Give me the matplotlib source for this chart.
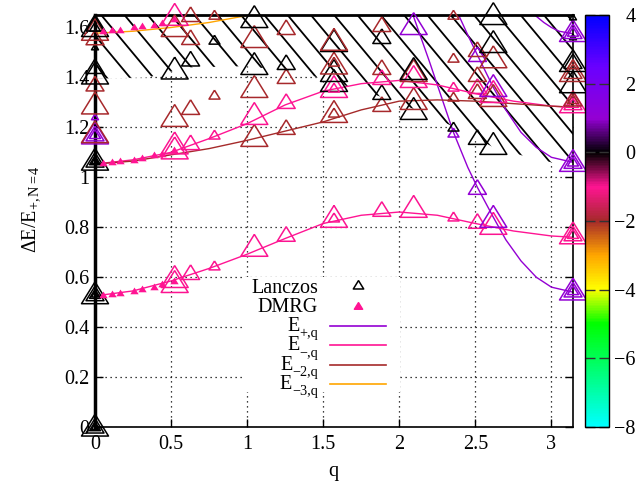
import numpy as np
import matplotlib
matplotlib.use("Agg")
import matplotlib.pyplot as plt
from matplotlib.colors import LinearSegmentedColormap, Normalize
from matplotlib.cm import ScalarMappable
from matplotlib.patches import Polygon, Rectangle
from matplotlib.collections import LineCollection
from matplotlib.ticker import FormatStrFormatter

plt.rcParams['font.family'] = ['Liberation Serif', 'DejaVu Serif']
plt.rcParams['mathtext.fontset'] = 'custom'
plt.rcParams['mathtext.rm'] = 'Liberation Serif'
plt.rcParams['mathtext.it'] = 'Liberation Serif:italic'
FS = 14.5
plt.rcParams['font.size'] = FS

PI = np.pi

# ---- curves ----
em_q = [0, 0.25, 0.5, 0.75, 1.0, 1.25, 1.5, 1.75, 2.0, 2.25, 2.5, 2.75, 3.0, PI]
em_lo = [0.525, 0.545, 0.585, 0.635, 0.692, 0.755, 0.815, 0.848, 0.861, 0.848, 0.815, 0.785, 0.765, 0.76]
em_hi = [1.053, 1.07, 1.10, 1.155, 1.215, 1.29, 1.345, 1.375, 1.388, 1.37, 1.335, 1.305, 1.285, 1.28]
e2_E = [1.053, 1.065, 1.09, 1.115, 1.148, 1.185, 1.222, 1.27, 1.305, 1.31, 1.305, 1.295, 1.285, 1.281]
e3_q = [0, 0.25, 0.5, 0.75, 1.0, 1.1]
e3_E = [1.577, 1.585, 1.60, 1.62, 1.648, 1.665]
ep_a_q = [2.09, 2.2, 2.3, 2.356, 2.45, 2.513, 2.618, 2.7, 2.8, 2.9, 3.0, PI]
ep_a_E = [1.65, 1.46, 1.28, 1.18, 1.04, 0.96, 0.84, 0.75, 0.665, 0.60, 0.56, 0.54]
ep_c_q = [2.39, 2.45, 2.513, 2.618, 2.7, 2.8, 2.9, 3.0, PI]
ep_c_E = [1.65, 1.57, 1.49, 1.36, 1.27, 1.18, 1.12, 1.08, 1.06]
ep_b_q = [2.89, 2.95, 3.0, 3.05, PI]
ep_b_E = [1.65, 1.62, 1.60, 1.585, 1.575]

# lower edge of hatched continuum
cont_q = [0, 0.35, 0.6, 1.0, 1.35, 1.8, 2.2, 2.62, 2.85, 3.0, PI]
cont_E = [1.395, 1.40, 1.44, 1.445, 1.42, 1.34, 1.25, 1.12, 1.08, 1.06, 1.05]

# ---- DMRG points ----
dm_q = [0.055, 0.11, 0.165, 0.255, 0.31, 0.385, 0.44, 0.52]
dm_lo = [0.528, 0.531, 0.535, 0.544, 0.551, 0.562, 0.571, 0.583]
dm_hi = [1.057, 1.061, 1.065, 1.071, 1.079, 1.088, 1.095, 1.108]
dm_top = [1.585, 1.588, 1.591, 1.601, 1.604, 1.611, 1.617, 1.635]

# ---- Lanczos points: q, E, quantum number (colour), system size N ----
lz = [
    (0, 0.0, 0, 6), (0, 0.0, 0, 8), (0, 0.0, 0, 10), (0, 0.0, 0, 12),
    (0, 0.53, 0, 6), (0, 0.53, 0, 8), (0, 0.53, 0, 10), (0, 0.53, 0, 12),
    (0, 1.065, 0, 6), (0, 1.065, 0, 8), (0, 1.065, 0, 10), (0, 1.065, 0, 12),
    (0, 1.17, 1, 8), (0, 1.17, 1, 10), (0, 1.17, 1, 12), (0, 1.24, 1, 6),
    (0, 1.175, -2, 12), (0, 1.29, -2, 12), (0, 1.37, -2, 10),
    (0, 1.44, 0, 10), (0, 1.41, 0, 12), (0, 1.52, 0, 6), (0, 1.555, -2, 10),
    (0, 1.585, -2, 12), (0, 1.60, 0, 8), (0, 1.61, 0, 10), (0, 1.60, 0, 12),
    (PI/6, 0.595, -1, 12), (PI/6, 0.575, -1, 12), (PI/6, 1.13, -1, 12), (PI/6, 1.11, -1, 12),
    (PI/6, 1.24, -2, 12), (PI/6, 1.43, 0, 12), (PI/6, 1.60, -2, 12), (PI/6, 1.645, -1, 12),
    (PI/5, 0.615, -1, 10), (PI/5, 1.135, -1, 10), (PI/5, 1.276, -2, 10), (PI/5, 1.47, 0, 10),
    (PI/5, 1.556, -2, 10), (PI/5, 1.648, -2, 10),
    (PI/4, 0.644, -1, 8), (PI/4, 1.168, -1, 8), (PI/4, 1.328, -2, 8), (PI/4, 1.548, 0, 8),
    (PI/4, 1.648, -2, 8),
    (PI/3, 0.72, -1, 12), (PI/3, 1.16, -2, 12), (PI/3, 1.248, -1, 12), (PI/3, 1.356, -2, 12),
    (PI/3, 1.448, 0, 12), (PI/3, 1.556, -2, 12), (PI/3, 1.636, 0, 12),
    (2*PI/5, 0.768, -1, 10), (2*PI/5, 1.196, -2, 10), (2*PI/5, 1.30, -1, 10),
    (2*PI/5, 1.40, -2, 10), (2*PI/5, 1.456, 0, 10), (2*PI/5, 1.596, -2, 10),
    (PI/2, 0.836, -1, 12), (PI/2, 1.256, -2, 12), (PI/2, 1.356, -1, 12), (PI/2, 1.38, 0, 12),
    (PI/2, 1.42, 0, 12), (PI/2, 1.45, -2, 12), (PI/2, 1.54, 0, 12), (PI/2, 1.545, -2, 12),
    (PI/2, 0.836, -1, 8), (PI/2, 1.256, -2, 8), (PI/2, 1.356, -1, 8), (PI/2, 1.46, -2, 8),
    (3*PI/5, 0.868, -1, 10), (3*PI/5, 1.288, -2, 10), (3*PI/5, 1.336, 0, 10),
    (3*PI/5, 1.396, -1, 10), (3*PI/5, 1.436, -2, 10), (3*PI/5, 1.56, 0, 10), (3*PI/5, 1.608, -2, 10),
    (2*PI/3, 0.876, -1, 12), (2*PI/3, 1.268, 0, 12), (2*PI/3, 1.308, -2, 12),
    (2*PI/3, 1.396, -1, 12), (2*PI/3, 1.42, -2, 12), (2*PI/3, 1.428, 0, 12), (2*PI/3, 1.608, 1, 12),
    (3*PI/4, 0.84, -1, 8), (3*PI/4, 1.176, 1, 8), (3*PI/4, 1.20, 0, 8), (3*PI/4, 1.32, -2, 8),
    (3*PI/4, 1.36, -1, 8), (3*PI/4, 1.476, -2, 8), (3*PI/4, 1.648, -2, 8),
    (4*PI/5, 0.82, -1, 10), (4*PI/5, 0.956, 1, 10), (4*PI/5, 1.156, 0, 10), (4*PI/5, 1.34, -2, 10),
    (4*PI/5, 1.36, -1, 10), (4*PI/5, 1.408, -2, 10), (4*PI/5, 1.488, 1, 10), (4*PI/5, 1.508, -2, 10),
    (5*PI/6, 0.808, -1, 12), (5*PI/6, 0.836, 1, 12), (5*PI/6, 1.128, 0, 12), (5*PI/6, 1.32, -2, 12),
    (5*PI/6, 1.336, -1, 12), (5*PI/6, 1.36, 1, 12), (5*PI/6, 1.475, -2, 12), (5*PI/6, 1.536, 0, 12),
    (5*PI/6, 1.648, 0, 12),
    (PI, 0.545, 1, 8), (PI, 0.545, 1, 10), (PI, 0.545, 1, 12),
    (PI, 0.77, -1, 8), (PI, 0.77, -1, 10), (PI, 0.77, -1, 12),
    (PI, 1.06, 1, 8), (PI, 1.06, 1, 10), (PI, 1.06, 1, 12),
    (PI, 1.295, -1, 8), (PI, 1.295, -1, 10), (PI, 1.295, -1, 12),
    (PI, 1.31, -2, 8), (PI, 1.31, -2, 10), (PI, 1.375, 0, 12),
    (PI, 1.42, -2, 10), (PI, 1.42, -2, 12), (PI, 1.46, 0, 10), (PI, 1.46, 0, 12), (PI, 1.45, -2, 8),
    (PI, 1.56, 0, 6), (PI, 1.58, 1, 8), (PI, 1.58, 1, 10), (PI, 1.58, 1, 12), (PI, 1.64, 0, 6),
]
lz_q = [p[0] for p in lz]
lz_E = [p[1] for p in lz]
lz_val = [p[2] for p in lz]
lz_N = [p[3] for p in lz]

size_px = {6: 7, 8: 11, 10: 18, 12: 27}

point_labels = ['Lanczos', 'DMRG']
curve_subs = ['+,q', '\u2212,q', '\u22122,q', '\u22123,q']
line_colors = ['#9400d3', '#ff1493', '#a52a2a', '#ffa500']

cmap = LinearSegmentedColormap.from_list("qn", [
    (0.0, '#00ffff'), (1.5/12, '#00ff80'), (3/12, '#00ff00'), (4/12, '#ffff00'),
    (5/12, '#ffa500'), (6/12, '#a52a2a'), (7/12, '#ff1493'), (8/12, '#000000'),
    (9/12, '#9400d3'), (10.5/12, '#6a00ff'), (1.0, '#0000ff')])
norm = Normalize(-8, 4)

tri = [(0, 0.95), (-1, -0.67), (1, -0.67), (0, 0.95)]

fig = plt.figure(figsize=(6.37, 4.92), dpi=100)
AX_L, AX_B, AX_W, AX_H = 95, 427, 478, 412
ax = fig.add_axes([AX_L/637, 1-AX_B/492, AX_W/637, AX_H/492])


def px(x, y):
    # pixel position in the picture -> axes fraction
    return (x - AX_L) / AX_W, (AX_B - y) / AX_H


ax.set_xlim(0, PI)
ax.set_ylim(0, 1.65)
ax.set_xticks([0, 0.5, 1, 1.5, 2, 2.5, 3])
ax.set_yticks(np.arange(0, 1.61, 0.2))
ax.xaxis.set_major_formatter(FormatStrFormatter('%g'))
ax.yaxis.set_major_formatter(FormatStrFormatter('%g'))
ax.tick_params(direction='in', length=6, width=1, top=False, right=True, labelsize=FS)
ax.tick_params(axis='x', pad=6)
ax.tick_params(axis='y', pad=4)
ax.grid(True, color='k', linestyle=(0, (1, 3)), linewidth=0.9, zorder=0)
ax.set_axisbelow(True)
for s in ax.spines.values():
    s.set_linewidth(1.2)
ax.spines['left'].set_linewidth(2.5)
ax.spines['top'].set_linewidth(2)

# hatched continuum
verts = [(0, 1.65)] + list(zip(cont_q, cont_E)) + [(PI, 1.65)]
poly = Polygon(verts, closed=True, facecolor='white', edgecolor='none', zorder=1)
ax.add_patch(poly)
slope = 1.2
segs = []
for X in np.arange(-AX_H / slope, AX_W + 1, 23.3):
    segs.append([(X / AX_W, 1.0), ((X + AX_H / slope) / AX_W, 0.0)])
hatch = LineCollection(segs, colors='k', linewidths=1.3, transform=ax.transAxes, zorder=1.1)
ax.add_collection(hatch)
hatch.set_clip_path(poly)

lw_c = 1.0
ax.plot(ep_a_q, ep_a_E, color=line_colors[0], lw=lw_c, zorder=2)
ax.plot(ep_b_q, ep_b_E, color=line_colors[0], lw=lw_c, zorder=2)
ax.plot(ep_c_q, ep_c_E, color=line_colors[0], lw=lw_c, zorder=2)
ax.plot(em_q, em_lo, color=line_colors[1], lw=lw_c, zorder=2)
ax.plot(em_q, em_hi, color=line_colors[1], lw=lw_c, zorder=2)
ax.plot(em_q, e2_E, color=line_colors[2], lw=lw_c, zorder=2)
ax.plot(e3_q, e3_E, color=line_colors[3], lw=lw_c, zorder=2)

cols = [cmap(norm(v)) for v in lz_val]
sizes = [(size_px[n] * 0.72) ** 2 for n in lz_N]
ax.scatter(lz_q, lz_E, s=sizes, marker=tri, facecolors='none', edgecolors=cols,
           linewidths=1.1, zorder=3, clip_on=False)
for branch in (dm_lo, dm_hi, dm_top):
    ax.scatter(dm_q, branch, s=6.0 ** 2, marker=tri, color='#ff1493', linewidths=0,
               zorder=3.5, clip_on=False)

# key, laid out like gnuplot's: text right-aligned, sample on the right
x0, y0 = px(243, 392)
x1, y1 = px(400, 277)
ax.add_patch(Rectangle((x0, y0), x1 - x0, y1 - y0, transform=ax.transAxes,
                       facecolor='white', edgecolor='none', zorder=5))
TXT_R = 318
for lab, yb in zip(point_labels, [293, 312]):
    tx, ty = px(TXT_R, yb)
    ax.text(tx, ty, lab, transform=ax.transAxes, ha='right', va='baseline', fontsize=FS, zorder=6)
renderer = fig.canvas.get_renderer()
for sub, yb in zip(curve_subs, [331, 350.5, 370, 389]):
    tx, ty = px(TXT_R, yb + 6)
    st = ax.text(tx, ty, sub, transform=ax.transAxes, ha='right', va='baseline',
                 fontsize=FS * 0.7, zorder=6)
    w = st.get_window_extent(renderer).width
    ex, ey = px(TXT_R - w, yb)
    ax.text(ex, ey, 'E', transform=ax.transAxes, ha='right', va='baseline', fontsize=FS, zorder=6)
mx, my = px(358, 285)
ax.plot([mx], [my], marker=tri, ls='none', mfc='none', mec='k', ms=7.5, mew=1.1,
        transform=ax.transAxes, zorder=6, clip_on=False)
mx, my = px(358, 306)
ax.plot([mx], [my], marker=tri, ls='none', mfc='#ff1493', mec='#ff1493', ms=6,
        transform=ax.transAxes, zorder=6, clip_on=False)
for c, yl in zip(line_colors, [325.7, 345.3, 365, 384.3]):
    xa, ya = px(330, yl)
    xb, _ = px(386, yl)
    ax.plot([xa, xb], [ya, ya], color=c, lw=1.2, transform=ax.transAxes, zorder=6)

ax.set_xlabel('q', fontsize=FS)
ax.xaxis.set_label_coords(0.498, -0.085)
ax.set_ylabel(r'$\Delta$E/E$_{\mathrm{{+},N{=}4}}$', fontsize=FS)
ax.yaxis.set_label_coords(-0.11, 0.53)

cax = fig.add_axes([585/637, 1-427/492, 24/637, 412/492])
cb = fig.colorbar(ScalarMappable(norm=norm, cmap=cmap), cax=cax)
cb.set_ticks([-8, -6, -4, -2, 0, 2, 4])
cb.outline.set_linewidth(1)
cax.tick_params(direction='in', left=True, right=True, length=7, width=1, colors='#333333',
                labelcolor='k', labelsize=FS, pad=19)
for t in cax.get_yticklabels():
    t.set_ha('right')

fig.savefig('out.png', dpi=100)
